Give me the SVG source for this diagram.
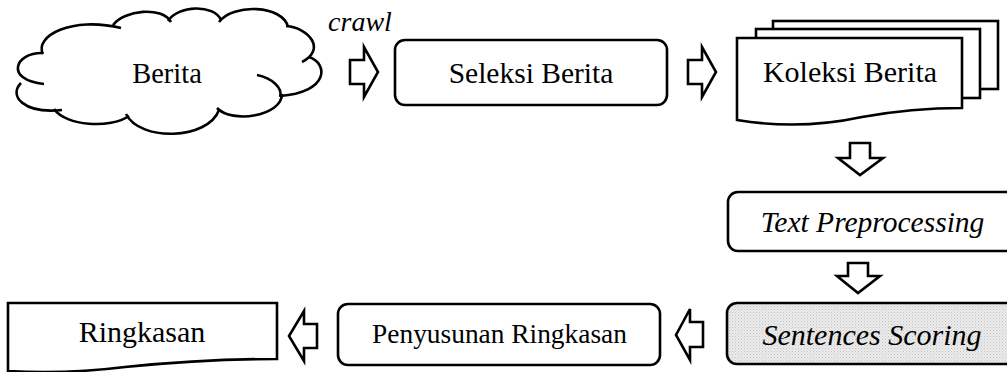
<svg xmlns="http://www.w3.org/2000/svg" width="1007" height="372" viewBox="0 0 1007 372">
  <style>
    .shape { fill: #ffffff; stroke: #000000; stroke-width: 2.6; stroke-linejoin: miter; }
    .lobe { fill: none; stroke: #000000; stroke-width: 2.6; stroke-linecap: butt; }
    .label { font-family: "Liberation Serif", "Times New Roman", serif; font-size: 29.5px; fill: #000000; text-anchor: middle; }
    .ital { font-style: italic; }
    .arrow { fill: #ffffff; stroke: #000000; stroke-width: 2.6; stroke-linejoin: miter; }
  </style>
  <defs>
    <!-- fine grey stipple for the scoring step -->
    <pattern id="stipple" width="3" height="3" patternUnits="userSpaceOnUse">
      <rect width="3" height="3" fill="#ebebeb"/>
      <rect x="0" y="0" width="1" height="1" fill="#c4c4c4"/>
      <rect x="1.5" y="1.5" width="1" height="1" fill="#d2d2d2"/>
    </pattern>
  </defs>

  <!-- source: news cloud -->
  <g id="node-berita">
    <path class="lobe" d="M43,54 C34,36 72,16 121,28"/>
    <path class="lobe" d="M113,25 C124,10 162,6 171,22"/>
    <path class="lobe" d="M168,21 C178,5 214,4 221,20"/>
    <path class="lobe" d="M219,22 C233,3 283,5 288,27"/>
    <path class="lobe" d="M286,26 C310,28 326,50 302,62"/>
    <path class="lobe" d="M309,57 C328,63 330,92 280,96"/>
    <path class="lobe" d="M257,75 C272,78 283,88 280,97"/>
    <path class="lobe" d="M282,94 C282,116 232,124 217,108"/>
    <path class="lobe" d="M219,110 C208,140 140,142 126,114"/>
    <path class="lobe" d="M129,116 C110,129 66,126 54,109"/>
    <path class="lobe" d="M62,110 C24,114 8,96 21,83"/>
    <path class="lobe" d="M43,53 C15,52 4,80 44,84"/>
    <text class="label" x="167" y="83" style="font-size:28.5px">Berita</text>
  </g>

  <g id="node-seleksi">
    <rect class="shape" x="395" y="40" width="272" height="65" rx="10" ry="10"/>
    <text class="label" x="531" y="83">Seleksi Berita</text>
  </g>

  <!-- stacked documents -->
  <g id="node-koleksi">
    <rect class="shape" x="773" y="21" width="225" height="68"/>
    <rect class="shape" x="756" y="29" width="224" height="69"/>
    <path class="shape" d="M737,38 H962 V108 C925,108 895,111 862,117 C825,125 785,128 737,120 Z"/>
    <text class="label" x="850" y="82" style="font-size:30px">Koleksi Berita</text>
  </g>

  <g id="node-preprocessing">
    <rect class="shape" x="728" y="192" width="290" height="59" rx="10" ry="10"/>
    <text class="label ital" x="872.5" y="232">Text Preprocessing</text>
  </g>

  <g id="node-scoring">
    <rect class="shape" x="727" y="303" width="291" height="61" rx="10" ry="10" style="fill:url(#stipple)"/>
    <text class="label ital" x="872" y="345" style="font-size:30px">Sentences Scoring</text>
  </g>

  <g id="node-penyusunan">
    <rect class="shape" x="338" y="304" width="322" height="61" rx="10" ry="10"/>
    <text class="label" x="499.5" y="343" style="font-size:27.4px">Penyusunan Ringkasan</text>
  </g>

  <g id="node-ringkasan">
    <path class="shape" d="M8,303 H277 V359 C225,359 175,362 125,367 C85,372 45,373 8,371 Z"/>
    <text class="label" x="142" y="342" style="font-size:30px">Ringkasan</text>
  </g>

  <!-- hollow block arrows between steps -->
  <g id="connectors">
    <text class="label ital" x="360" y="31" style="font-size:28px">crawl</text>
    <polygon class="arrow" points="350,60 364,60 364,47 378,72 364,97 364,84 350,84"/>
    <polygon class="arrow" points="688,60 702,60 702,47 716,72 702,97 702,84 688,84"/>
    <polygon class="arrow" points="850,143 870,143 870,158 883,158 860,175 838,158 850,158"/>
    <polygon class="arrow" points="848,263 868,263 868,276 880,276 858,293 837,276 848,276"/>
    <polygon class="arrow" points="703,322 690,322 690,309 676,335 690,360 690,347 703,347"/>
    <polygon class="arrow" points="317,324 304,324 304,311 289,336 304,361 304,348 317,348"/>
  </g>
</svg>
